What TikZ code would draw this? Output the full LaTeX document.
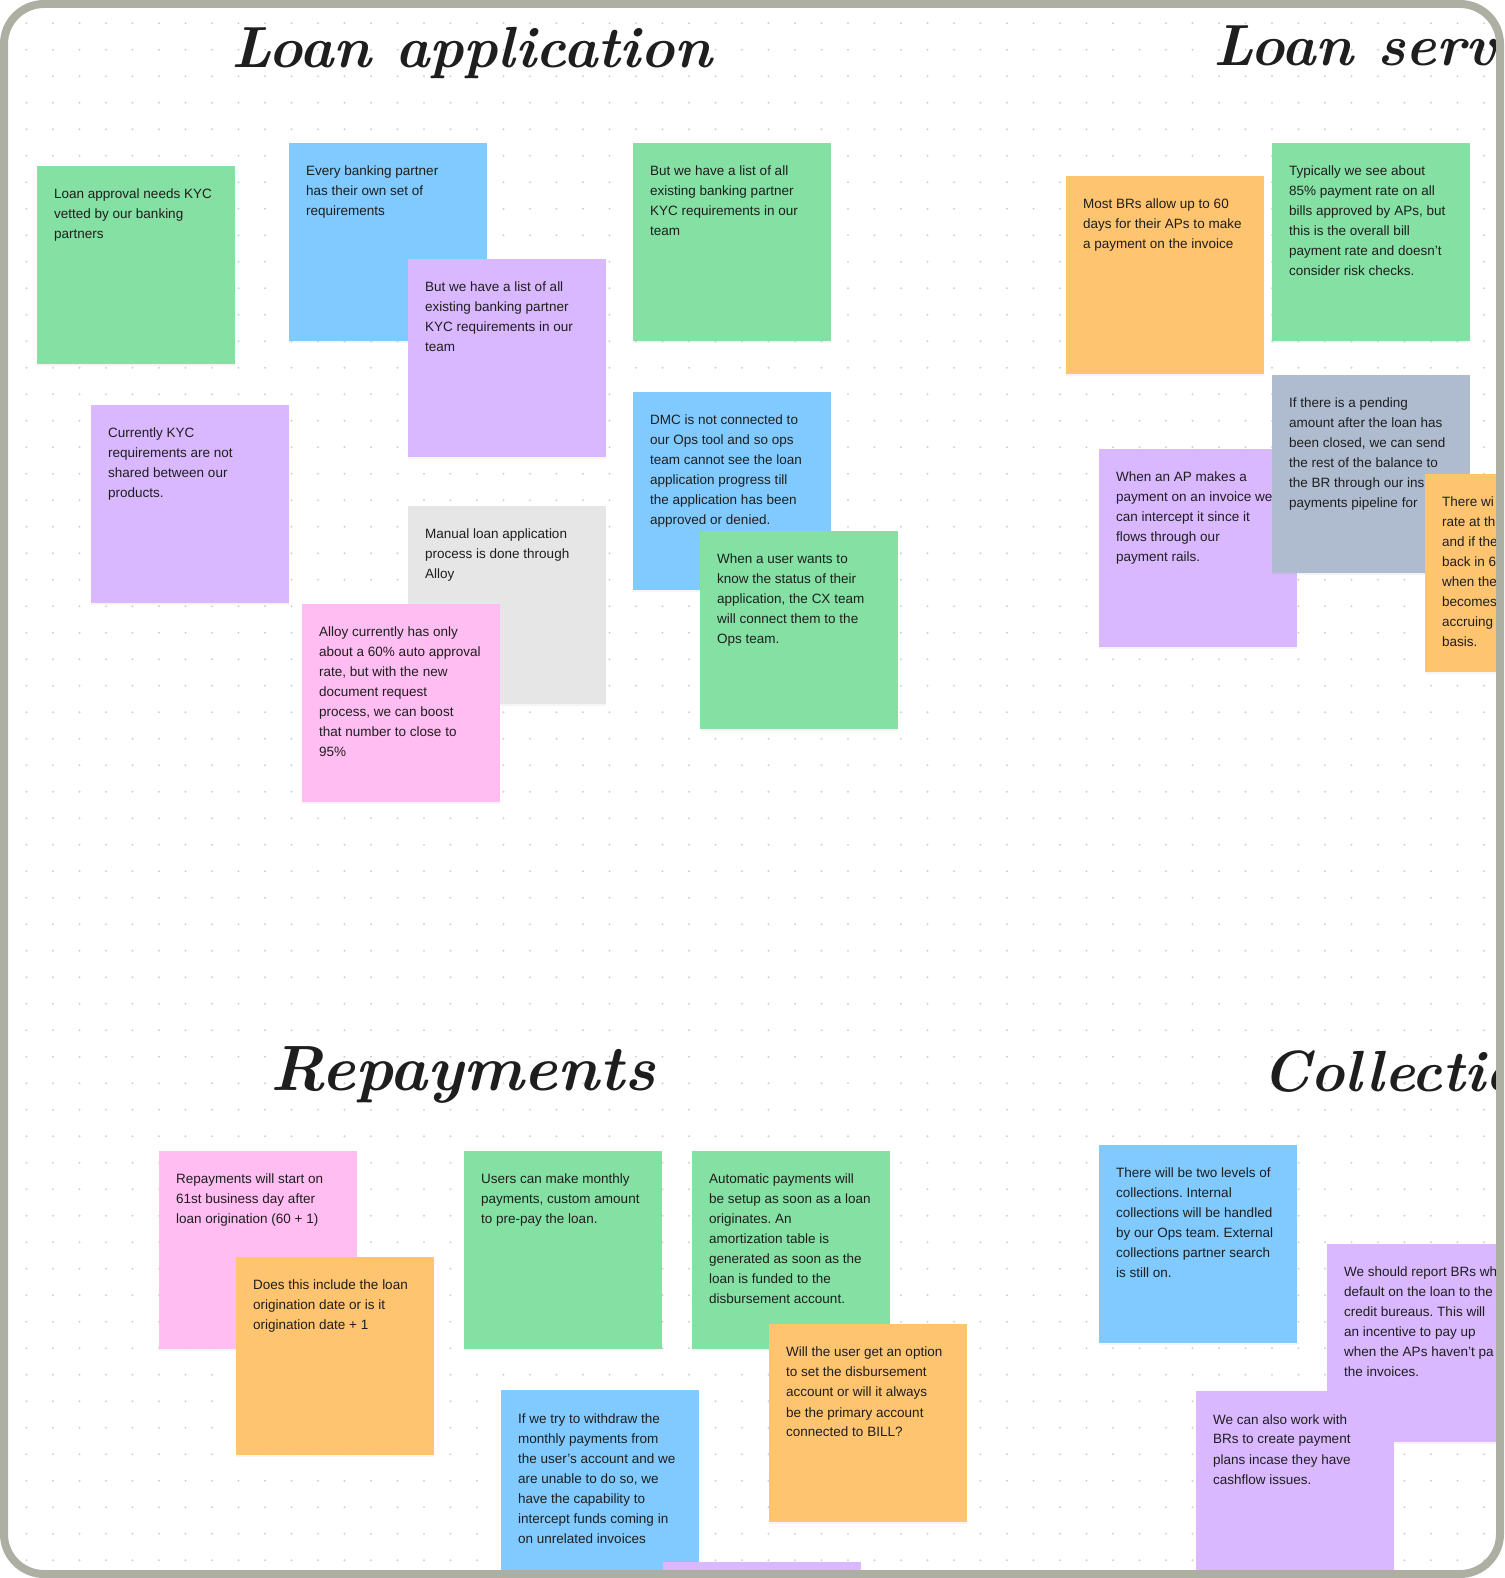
\documentclass[tikz,border=0pt]{standalone}
\usepackage{fontspec}
\newfontfamily\notesans{Liberation Sans}
\usepackage{tikz}
\usetikzlibrary{positioning, shadows}
\frenchspacing

\definecolor{stickygreen}{HTML}{85E0A3}
\definecolor{stickyblue}{HTML}{80CAFF}
\definecolor{stickypurple}{HTML}{D9B8FF}
\definecolor{stickygrey}{HTML}{E6E6E6}
\definecolor{stickypink}{HTML}{FFBDF2}
\definecolor{stickyorange}{HTML}{FFC470}
\definecolor{stickyslate}{HTML}{AFBCCF}
\definecolor{framegrey}{HTML}{ADAFA3}
\definecolor{dotgrey}{HTML}{D2D2D2}
\definecolor{ink}{HTML}{1E1E1E}

\begin{document}
\begin{tikzpicture}[
    x=1pt, y=-1pt,
    note/.style={rectangle, fill=#1, minimum width=198pt, minimum height=198pt, anchor=north west, inner sep=0pt,
        drop shadow={shadow xshift=0pt, shadow yshift=-2pt, opacity=0.08}},
    notetext/.style={align=left, inner sep=0pt, font=\notesans\fontsize{13.5}{20}\selectfont, text=ink,
        below right=23pt and 17pt of #1.north west},
    heading/.style={font=\fontsize{58}{60}\selectfont\bfseries\itshape, anchor=base west, inner sep=0pt, text=ink}
]

\useasboundingbox (0,0) rectangle (1504,1578);
\fill[white] (0,0) rectangle (1504,1578);

\begin{scope}
\clip[rounded corners=36] (8,8) rectangle (1496,1570);

% dot grid
\foreach \i in {1,...,56} {
    \foreach \j in {0,...,58} {
        \fill[dotgrey] (26.5*\i, 23.3+26.5*\j) circle (1.1);
    }
}

% Headings
\node[heading] (h-app) at (231,68) {Loan application};
\node[heading] (h-serv) at (1213,66) {Loan servicing};
\node[heading, font=\fontsize{64}{66}\selectfont\bfseries\itshape] (h-rep) at (270,1090) {Repayments};
\node[heading] (h-coll) at (1262,1091) {Collections};

% Loan application
\node[note=stickygreen] (kyc) at (37,166) {};
\node[notetext=kyc] (kyc-t) {Loan approval needs KYC\\vetted by our banking\\partners};
\node[note=stickyblue] (partners) at (289,143) {};
\node[notetext=partners] (partners-t) {Every banking partner\\has their own set of\\requirements};
\node[note=stickypurple] (kyclist) at (408,259) {};
\node[notetext=kyclist] (kyclist-t) {But we have a list of all\\existing banking partner\\KYC requirements in our\\team};
\node[note=stickygreen] (kyclist2) at (633,143) {};
\node[notetext=kyclist2] (kyclist2-t) {But we have a list of all\\existing banking partner\\KYC requirements in our\\team};
\node[note=stickypurple] (shared) at (91,405) {};
\node[notetext=shared] (shared-t) {Currently KYC\\requirements are not\\shared between our\\products.};
\node[note=stickygrey] (manual) at (408,506) {};
\node[notetext=manual] (manual-t) {Manual loan application\\process is done through\\Alloy};
\node[note=stickypink] (alloy) at (302,604) {};
\node[notetext=alloy] (alloy-t) {Alloy currently has only\\about a 60\% auto approval\\rate, but with the new\\document request\\process, we can boost\\that number to close to\\95\%};
\node[note=stickyblue] (dmc) at (633,392) {};
\node[notetext=dmc] (dmc-t) {DMC is not connected to\\our Ops tool and so ops\\team cannot see the loan\\application progress till\\the application has been\\approved or denied.};
\node[note=stickygreen] (status) at (700,531) {};
\node[notetext=status] (status-t) {When a user wants to\\know the status of their\\application, the CX team\\will connect them to the\\Ops team.};

% Loan servicing
\node[note=stickyorange] (terms) at (1066,176) {};
\node[notetext=terms] (terms-t) {Most BRs allow up to 60\\days for their APs to make\\a payment on the invoice};
\node[note=stickygreen] (payrate) at (1272,143) {};
\node[notetext=payrate] (payrate-t) {Typically we see about\\85\% payment rate on all\\bills approved by APs, but\\this is the overall bill\\payment rate and doesn’t\\consider risk checks.};
\node[note=stickypurple] (intercept) at (1099,449) {};
\node[notetext=intercept] (intercept-t) {When an AP makes a\\payment on an invoice we\\can intercept it since it\\flows through our\\payment rails.};
\node[note=stickyslate] (pending) at (1272,375) {};
\node[notetext=pending] (pending-t) {If there is a pending\\amount after the loan has\\been closed, we can send\\the rest of the balance to\\the BR through our ins\\payments pipeline for};
\node[note=stickyorange] (accrue) at (1425,474) {};
\node[notetext=accrue] (accrue-t) {There wi\\rate at th\\and if the\\back in 6\\when the\\becomes\\accruing\\basis.};

% Repayments
\node[note=stickypink] (start) at (159,1151) {};
\node[notetext=start] (start-t) {Repayments will start on\\61st business day after\\loan origination (60 + 1)};
\node[note=stickyorange] (origdate) at (236,1257) {};
\node[notetext=origdate] (origdate-t) {Does this include the loan\\origination date or is it\\origination date + 1};
\node[note=stickygreen] (monthly) at (464,1151) {};
\node[notetext=monthly] (monthly-t) {Users can make monthly\\payments, custom amount\\to pre-pay the loan.};
\node[note=stickygreen] (autopay) at (692,1151) {};
\node[notetext=autopay] (autopay-t) {Automatic payments will\\be setup as soon as a loan\\originates. An\\amortization table is\\generated as soon as the\\loan is funded to the\\disbursement account.};
\node[note=stickyorange] (disburse) at (769,1324) {};
\node[notetext=disburse] (disburse-t) {Will the user get an option\\to set the disbursement\\account or will it always\\be the primary account\\connected to BILL?};
\node[note=stickyblue] (withdraw) at (501,1390) {};
\node[notetext=withdraw] (withdraw-t) {If we try to withdraw the\\monthly payments from\\the user’s account and we\\are unable to do so, we\\have the capability to\\intercept funds coming in\\on unrelated invoices};
\node[note=stickypurple] (extra) at (663,1562) {};

% Collections
\node[note=stickyblue] (levels) at (1099,1145) {};
\node[notetext=levels] (levels-t) {There will be two levels of\\collections. Internal\\collections will be handled\\by our Ops team. External\\collections partner search\\is still on.};
\node[note=stickypurple] (bureau) at (1327,1244) {};
\node[notetext=bureau] (bureau-t) {We should report BRs wh\\default on the loan to the\\credit bureaus. This will\\an incentive to pay up\\when the APs haven’t pa\\the invoices.};
\node[note=stickypurple] (plans) at (1196,1391) {};
\node[notetext=plans] (plans-t) {We can also work with\\BRs to create payment\\plans incase they have\\cashflow issues.};
\end{scope}

% frame
\draw[line width=8pt, framegrey, rounded corners=40] (4,4) rectangle (1500,1574);

\end{tikzpicture}
\end{document}
